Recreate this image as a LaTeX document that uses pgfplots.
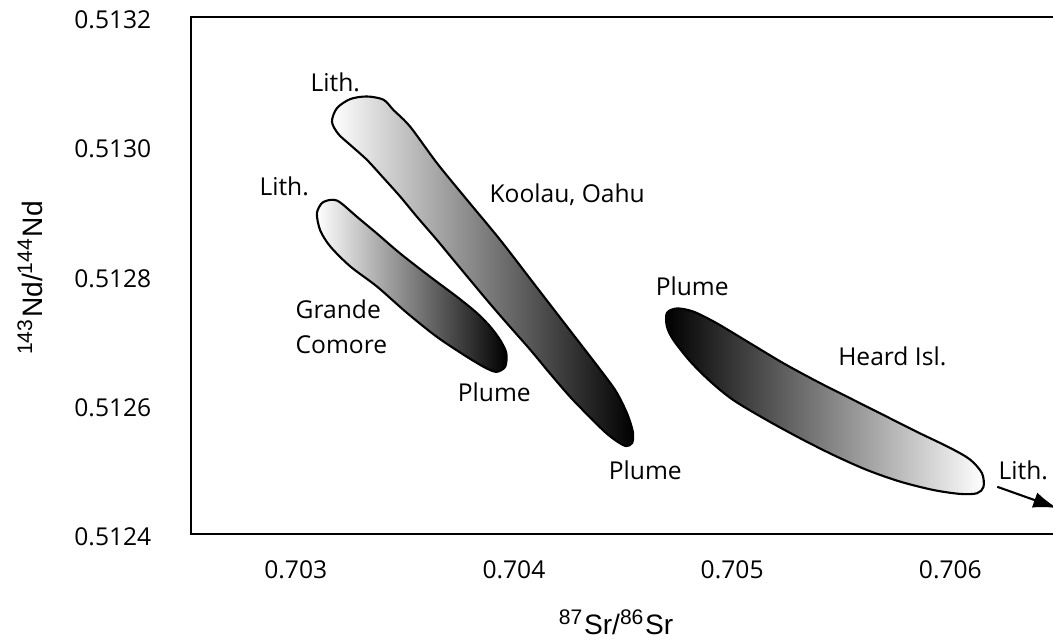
\documentclass[border=0pt]{standalone}
\usepackage{fontspec}
\setmainfont{Open Sans}
\newfontfamily\labelfont{Liberation Sans}
\usepackage{pgfplots}
\pgfplotsset{compat=1.18}
\usetikzlibrary{arrows.meta}

\begin{document}
\begin{tikzpicture}[
    blob/.style={draw=black, line width=0.6pt, smooth cycle},
    lab/.style={font=\fontsize{7}{8}\selectfont},
]
\begin{scope}
\clip (0,0) rectangle (105.3mm,63.9mm);
\begin{axis}[
    at={(19.1mm,10.5mm)}, anchor=south west,
    scale only axis,
    width=89.03mm, height=51.7mm,
    xmin=0.70252, xmax=0.7066,
    ymin=0.5124, ymax=0.5132,
    xtick={0.703,0.704,0.705,0.706},
    xticklabels={0.703,0.704,0.705,0.706},
    ytick={0.5124,0.5126,0.5128,0.5130,0.5132},
    yticklabels={0.5124,0.5126,0.5128,0.5130,0.5132},
    major tick length=0pt,
    axis line style={line width=0.8pt},
    tick label style={font=\fontsize{7}{8}\selectfont, inner sep=0pt},
    xticklabel style={anchor=center, yshift=-3.6mm},
    yticklabel style={anchor=east, xshift=-3.9mm, yshift=-0.3mm},
    xlabel={\labelfont\textsuperscript{87}Sr/\textsuperscript{86}Sr},
    ylabel={\labelfont\textsuperscript{143}Nd/\textsuperscript{144}Nd},
    label style={font=\fontsize{8}{9}\selectfont},
    xlabel style={at={(axis description cs:0.4775,-0.1702)}, anchor=center},
    ylabel style={at={(axis description cs:-0.1809,0.495)}, anchor=center},
]

% Koolau, Oahu
\addplot[blob, left color=white, right color=black] coordinates {
    (0.703937,0.512855) (0.704090,0.512788) (0.704243,0.512721)
    (0.704396,0.512654) (0.704469,0.512620) (0.704519,0.512586)
    (0.704545,0.512558) (0.704542,0.512541) (0.704515,0.512536)
    (0.704478,0.512542) (0.704423,0.512556) (0.704350,0.512580)
    (0.704258,0.512612) (0.704166,0.512648) (0.704075,0.512685)
    (0.703968,0.512726) (0.703876,0.512762) (0.703723,0.512824)
    (0.703647,0.512855) (0.703555,0.512891) (0.703479,0.512922)
    (0.703402,0.512951) (0.703326,0.512979) (0.703250,0.513002)
    (0.703195,0.513019) (0.703166,0.513038) (0.703189,0.513059)
    (0.703250,0.513073) (0.703326,0.513077) (0.703402,0.513072)
    (0.703448,0.513056) (0.703525,0.513030) (0.703647,0.512974)
    (0.703785,0.512917)
};

% Grande Comore
\addplot[blob, left color=white, right color=black] coordinates {
    (0.703510,0.512742) (0.703647,0.512705) (0.703785,0.512674)
    (0.703876,0.512656) (0.703922,0.512651) (0.703960,0.512659)
    (0.703965,0.512680) (0.703937,0.512700) (0.703891,0.512721)
    (0.703830,0.512742) (0.703739,0.512767) (0.703616,0.512798)
    (0.703479,0.512834) (0.703372,0.512865) (0.703280,0.512891)
    (0.703219,0.512909) (0.703189,0.512916) (0.703158,0.512917)
    (0.703120,0.512912) (0.703097,0.512896) (0.703112,0.512870)
    (0.703158,0.512845) (0.703250,0.512814) (0.703372,0.512783)
};

% Heard Isl.
\addplot[blob, left color=black, right color=white] coordinates {
    (0.705236,0.512664) (0.705389,0.512636) (0.705541,0.512610)
    (0.705694,0.512584) (0.705847,0.512558) (0.706000,0.512533)
    (0.706091,0.512515) (0.706145,0.512494) (0.706152,0.512473)
    (0.706122,0.512463) (0.706045,0.512462) (0.705923,0.512468)
    (0.705770,0.512481) (0.705618,0.512499) (0.705465,0.512522)
    (0.705312,0.512548) (0.705160,0.512576) (0.705006,0.512607)
    (0.704900,0.512636) (0.704808,0.512667) (0.704731,0.512700)
    (0.704701,0.512721) (0.704701,0.512742) (0.704747,0.512749)
    (0.704823,0.512744) (0.704930,0.512726) (0.705083,0.512695)
};

\node[lab] at (axis cs:0.703181,0.513099) {Lith.};
\node[lab] at (axis cs:0.702947,0.512938) {Lith.};
\node[lab] at (axis cs:0.704244,0.512925) {Koolau, Oahu};
\node[lab, anchor=west, align=left, font=\fontsize{7}{10}\selectfont] at (axis cs:0.702943,0.512721) {Grande\\Comore};
\node[lab] at (axis cs:0.703910,0.512620) {Plume};
\node[lab] at (axis cs:0.704602,0.512499) {Plume};
\node[lab] at (axis cs:0.704817,0.512784) {Plume};
\node[lab] at (axis cs:0.705734,0.512675) {Heard Isl.};
\node[lab] at (axis cs:0.706334,0.512498) {Lith.};
\draw[line width=0.6pt, -{Latex[length=2.4mm,width=1.6mm]}]
    (axis cs:0.706215,0.512473) -- (axis cs:0.70649,0.51244);
\end{axis}
\end{scope}
\pgfresetboundingbox
\useasboundingbox (0,0) rectangle (105.3mm,63.9mm);
\end{tikzpicture}
\end{document}
